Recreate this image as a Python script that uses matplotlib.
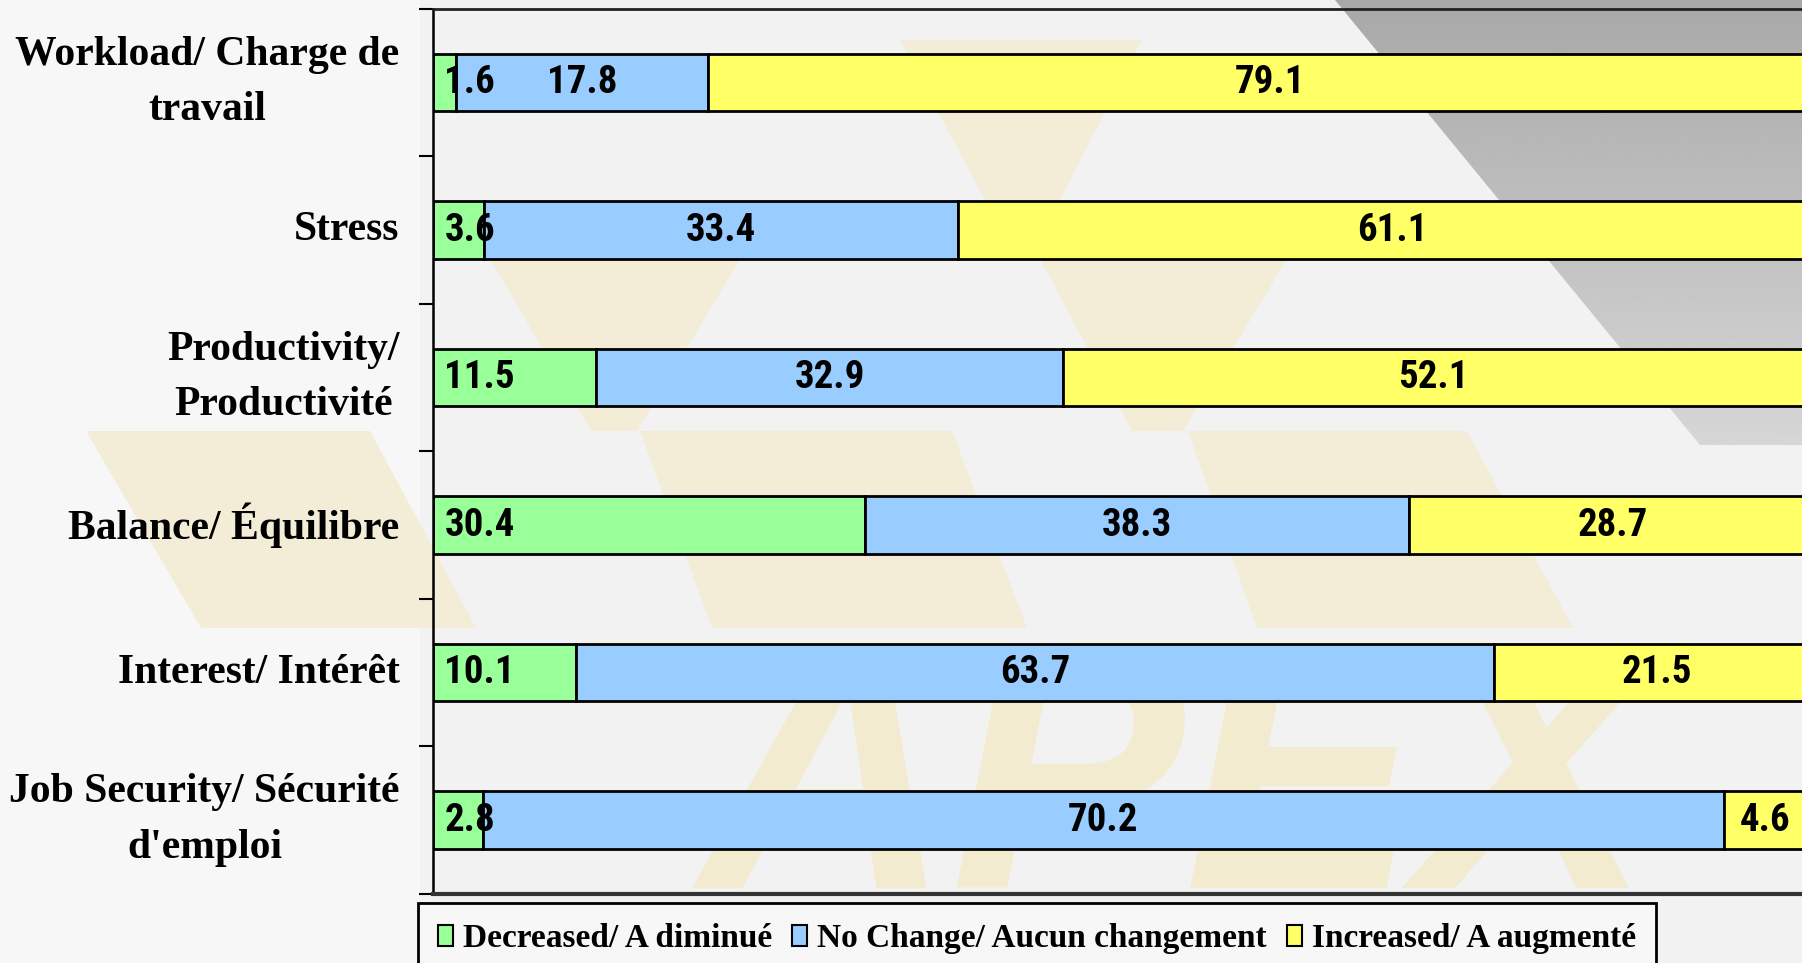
import numpy as np
import matplotlib
matplotlib.use('Agg')
import matplotlib.pyplot as plt
from matplotlib.patches import Patch, Polygon
from matplotlib import font_manager

categories = ['Workload/ Charge de\ntravail', 'Stress', 'Productivity/\nProductivité',
              'Balance/ Équilibre', 'Interest/ Intérêt', 'Job Security/ Sécurité\nd\'emploi']
series_names = ['Decreased/ A diminué', 'No Change/ Aucun changement', 'Increased/ A augmenté']

# values printed on the bars
decreased = [1.6, 3.6, 11.5, 30.4, 10.1, 2.8]
no_change = [17.8, 33.4, 32.9, 38.3, 63.7, 70.2]
increased = [79.1, 61.1, 52.1, 28.7, 21.5, 4.6]

# bar lengths as drawn in the original (Interest and Job Security are drawn longer than their labels)
decreased_len = [1.6, 3.6, 11.5, 30.4, 10.1, 3.5]
no_change_len = [17.8, 33.4, 32.9, 38.3, 64.6, 87.4]
increased_len = [79.1, 61.1, 52.1, 28.7, 23.0, 5.8]

colors = ['#99FF99', '#99CCFF', '#FFFF66']

installed = {f.name for f in font_manager.fontManager.ttflist}
num_font = 'Liberation Sans'
for cand in ['Liberation Sans Narrow', 'Arial Narrow', 'Roboto Condensed']:
    if cand in installed:
        num_font = cand
        break

W, H = 1802, 963
fig = plt.figure(figsize=(W / 100, H / 100), dpi=100, facecolor='#f2f2f2')

# background decoration (hexagon pieces + watermark)
bg = fig.add_axes([0, 0, 1, 1], zorder=-1)
bg.set_xlim(0, W)
bg.set_ylim(H, 0)
bg.axis('off')
bg.add_patch(Polygon([(0, 0), (420, 0), (420, H), (0, H)], closed=True, color='#f7f7f7', lw=0))
dark = Polygon([(1335, 0), (W, 0), (W, 445), (1700, 445)], closed=True, color='none', lw=0)
bg.add_patch(dark)
grad = np.linspace(0.66, 0.84, 200)[:, None]
im = bg.imshow(grad, extent=[1300, W, 445, 0], cmap='gray', vmin=0, vmax=1, aspect='auto')
im.set_clip_path(dark)
beige = '#f3edd8'
for pts in [[(86, 431), (370, 431), (476, 628), (201, 628)],
            [(490, 259), (740, 259), (637, 431), (591, 431)],
            [(900, 40), (1142, 40), (1060, 200), (985, 200)],
            [(1040, 259), (1287, 259), (1183, 431), (1132, 431)],
            [(640, 431), (952, 431), (1027, 628), (712, 628)],
            [(1188, 431), (1467, 431), (1573, 628), (1257, 628)]]:
    bg.add_patch(Polygon(pts, closed=True, color=beige, lw=0))
bg.text(1175, 635, 'APEX', color='#f2ebd0', fontsize=252, fontweight='bold', fontstyle='italic',
        family='Liberation Sans', ha='center', va='top')

ax = fig.add_axes([433 / W, 0.0719, 1420 / W, 0.9190], zorder=1)
ax.set_facecolor('none')

y = np.arange(len(categories))
bar_h = 0.393
lefts = np.zeros(len(categories))
for lens, vals, col, name in zip([decreased_len, no_change_len, increased_len],
                                 [decreased, no_change, increased], colors, series_names):
    ax.barh(y, lens, left=lefts, height=bar_h, color=col, edgecolor='black', linewidth=2, label=name)
    for i in range(len(categories)):
        if col == colors[0]:
            ax.text(0.8, y[i], f'{vals[i]:.1f}', ha='left', va='center', fontsize=28,
                    fontweight='bold', family=num_font)
        else:
            ax.text(lefts[i] + lens[i] / 2, y[i], f'{vals[i]:.1f}', ha='center', va='center',
                    fontsize=28, fontweight='bold', family=num_font)
    lefts += np.array(lens)

ax.set_xlim(0, 100)
ax.set_ylim(5.5, -0.5)
ax.set_xticks([])
ax.set_yticks(np.arange(-0.5, 6, 1))
ax.set_yticklabels([])
ax.set_yticks(y, minor=True)
ax.set_yticklabels(categories, minor=True, family='Liberation Serif', fontweight='bold', fontsize=30)
for lab in ax.get_yticklabels(minor=True):
    lab.set_multialignment('center')
    lab.set_linespacing(1.6)
    lab.set_verticalalignment('center')
ax.tick_params(axis='y', which='major', length=10, width=1.5, direction='out')
ax.tick_params(axis='y', which='minor', length=0, pad=24)

ax.spines['right'].set_visible(False)
ax.spines['left'].set_linewidth(1.8)
ax.spines['top'].set_linewidth(2)
ax.spines['top'].set_color('#222222')
ax.spines['bottom'].set_linewidth(3)
ax.spines['bottom'].set_color('#333333')

handles = [Patch(facecolor=c, edgecolor='black', linewidth=1.5) for c in colors]
leg = fig.legend(handles, series_names, loc='upper left', bbox_to_anchor=(418 / W, 1 - 903 / H),
                 ncol=3, frameon=True, fancybox=False, edgecolor='black', facecolor='#f7f7f7',
                 framealpha=1, prop={'family': 'Liberation Serif', 'weight': 'bold', 'size': 24},
                 handlelength=0.45, handleheight=0.6, handletextpad=0.3, columnspacing=0.6,
                 borderpad=0.6, borderaxespad=0)
leg.get_frame().set_linewidth(2)

plt.savefig('out.png', dpi=100, facecolor=fig.get_facecolor())
